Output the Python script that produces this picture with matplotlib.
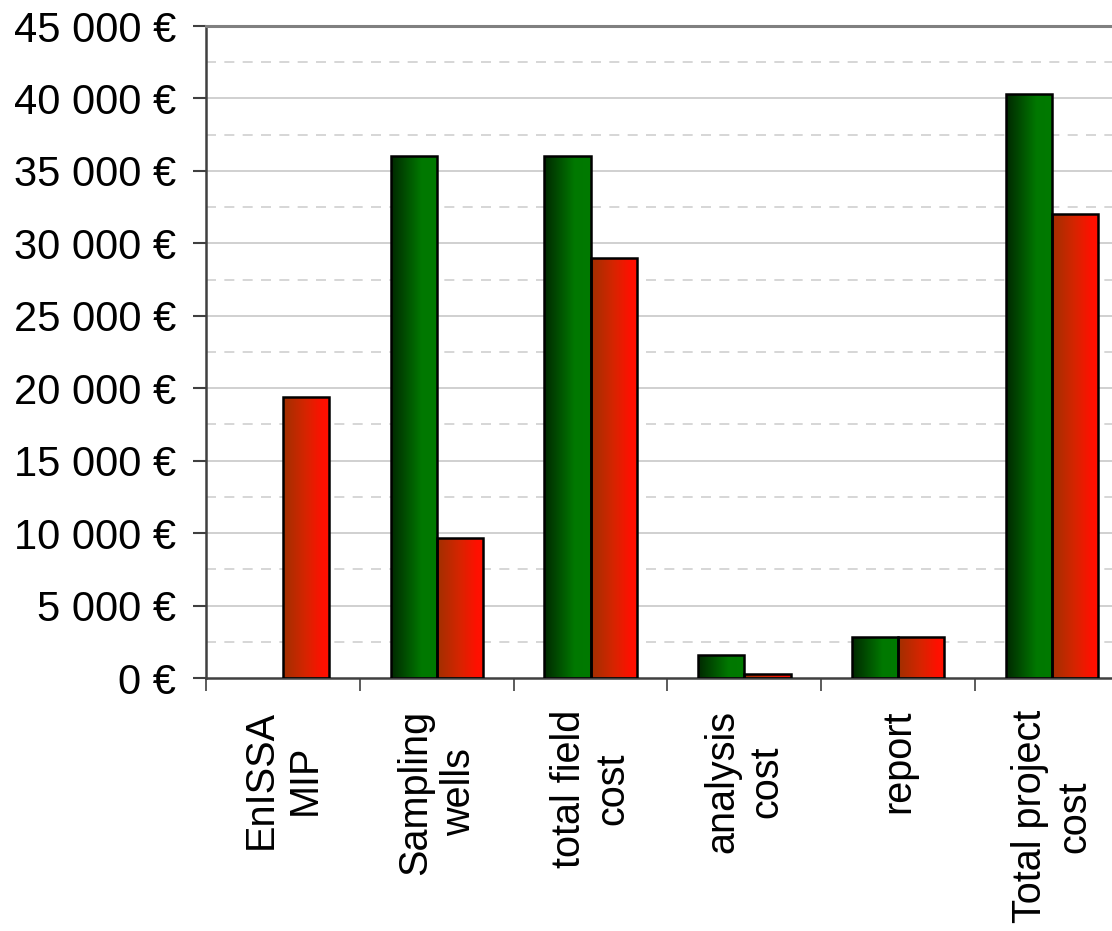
import numpy as np
import matplotlib
matplotlib.use('Agg')
import matplotlib.pyplot as plt
from matplotlib.colors import LinearSegmentedColormap
from matplotlib.ticker import FuncFormatter, MultipleLocator

plt.rcParams['font.family'] = ['Liberation Sans', 'DejaVu Sans']

categories = ['EnISSA\nMIP', 'Sampling\nwells', 'total field\ncost',
              'analysis\ncost', 'report', 'Total project\ncost']
green_vals = [0, 36000, 36000, 1600, 2800, 40300]
red_vals = [19400, 9650, 29000, 300, 2800, 32050]

green_cmap = LinearSegmentedColormap.from_list(
    'g', [(0, '#002800'), (0.65, '#007800'), (1, '#007a00')])
red_cmap = LinearSegmentedColormap.from_list(
    'r', [(0, '#a03000'), (0.5, '#d82400'), (0.85, '#ff1000'), (1, '#ff1000')])

fig = plt.figure(figsize=(11.12, 9.31), dpi=100)
ax = fig.add_axes([206 / 1112, 253 / 931, 923 / 1112, 652 / 931])

x = np.arange(len(categories))
w = 0.3
gbars = ax.bar(x + 0.35, green_vals, w, facecolor='none', edgecolor='black',
               linewidth=1.8, zorder=3)
rbars = ax.bar(x + 0.65, red_vals, w, facecolor='none', edgecolor='black',
               linewidth=1.8, zorder=3)

grad = np.linspace(0, 1, 256).reshape(1, -1)
for bars, cmap in ((gbars, green_cmap), (rbars, red_cmap)):
    for b in bars:
        h = b.get_height()
        if h <= 0:
            b.set_visible(False)
            continue
        x0 = b.get_x()
        im = ax.imshow(grad, cmap=cmap, aspect='auto', zorder=2,
                       extent=[x0, x0 + b.get_width(), 0, h],
                       interpolation='bilinear')
        im.set_clip_path(b)

ax.set_xlim(0, len(categories))
ax.set_ylim(0, 45000)

# gridlines: solid at 5000, dashed in between
ax.yaxis.set_major_locator(MultipleLocator(5000))
for v in np.arange(5000, 45000, 5000):
    ax.axhline(v, color='#c8c8c8', linewidth=1.2, zorder=1)
for v in np.arange(2500, 45000, 5000):
    ax.axhline(v, color='#d0d0d0', linewidth=1.2, linestyle=(0, (6, 5)), zorder=1)

ax.yaxis.set_major_formatter(FuncFormatter(
    lambda v, p: '{:,.0f} €'.format(v).replace(',', ' ')))

ax.set_xticks(np.arange(len(categories) + 1))
ax.set_xticklabels([])
ax.set_xticks(x + 0.5, minor=True)
ax.set_xticklabels(categories, minor=True, rotation=90, ha='center', va='top',
                   multialignment='center', fontsize=28.5)
ax.tick_params(axis='x', which='minor', length=0, pad=23)
ax.tick_params(axis='x', which='major', length=9, width=1.2, color='#404040',
               direction='out')
ax.tick_params(axis='y', length=9.5, width=1.5, color='#404040', pad=12,
               labelsize=30)

for s in ('left', 'bottom'):
    ax.spines[s].set_color('#404040')
    ax.spines[s].set_linewidth(1.8)
ax.spines['top'].set_color('#808080')
ax.spines['top'].set_linewidth(2.2)
ax.spines['right'].set_visible(False)

fig.savefig('out.png', dpi=100)
